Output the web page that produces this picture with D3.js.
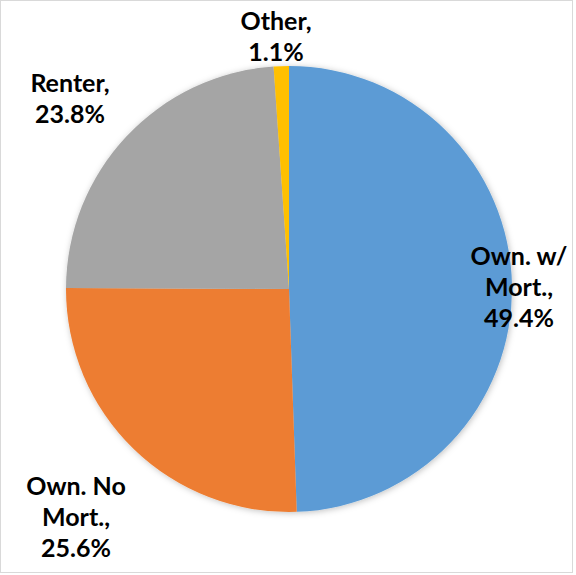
<!DOCTYPE html>
<html><head><meta charset="utf-8">
<script src="https://cdn.jsdelivr.net/npm/d3@7"></script>
<style>body{margin:0;background:#fff}svg{display:block}</style>
</head><body>
<script>
const categories = ["Own. w/ Mort.", "Own. No Mort.", "Renter", "Other"];
const values = [49.4, 25.6, 23.8, 1.1];
const labelLines = [["Own. w/", "Mort.,", "49.4%"], ["Own. No", "Mort.,", "25.6%"], ["Renter,", "23.8%"], ["Other,", "1.1%"]];
const colors = ["#5B9BD5", "#ED7D31", "#A5A5A5", "#FFC000"];

const W = 576, H = 575;
const cx = 289, cy = 289, R = 223;
// label anchor (center x, first baseline y)
const labelAnchor = [[519, 265], [76, 495], [70, 92], [276, 30]];
const lineH = 31;

const svg = d3.select("body").append("svg").attr("width", W).attr("height", H);
const defs = svg.append("defs");
const f = defs.append("filter").attr("id", "sh").attr("x", "-10%").attr("y", "-10%").attr("width", "120%").attr("height", "120%");
f.append("feDropShadow").attr("dx", 1).attr("dy", 1).attr("stdDeviation", 3).attr("flood-color", "#000").attr("flood-opacity", 0.25);

svg.append("rect").attr("x", 0.5).attr("y", 0.5).attr("width", W - 4).attr("height", H - 3)
  .attr("fill", "#fff").attr("stroke", "#d9d9d9");

const data = categories.map((c, i) => ({c, v: values[i], i}));
const pie = d3.pie().value(d => d.v).sort(null);
const arc = d3.arc().innerRadius(0).outerRadius(R);
const g = svg.append("g").attr("transform", `translate(${cx},${cy})`).attr("filter", "url(#sh)");
g.selectAll("path").data(pie(data)).join("path")
  .attr("d", arc).attr("fill", d => colors[d.data.i]);

const lg = svg.append("g").attr("font-family", "Lato, 'Open Sans', sans-serif").attr("font-weight", "bold")
  .attr("font-size", 25).attr("fill", "#000").attr("text-anchor", "middle");
data.forEach((d, i) => {
  const t = lg.append("text").attr("x", labelAnchor[i][0]).attr("y", labelAnchor[i][1]);
  labelLines[i].forEach((ln, k) => {
    t.append("tspan").attr("x", labelAnchor[i][0]).attr("dy", k === 0 ? 0 : lineH).text(ln);
  });
});
</script>
</body></html>
